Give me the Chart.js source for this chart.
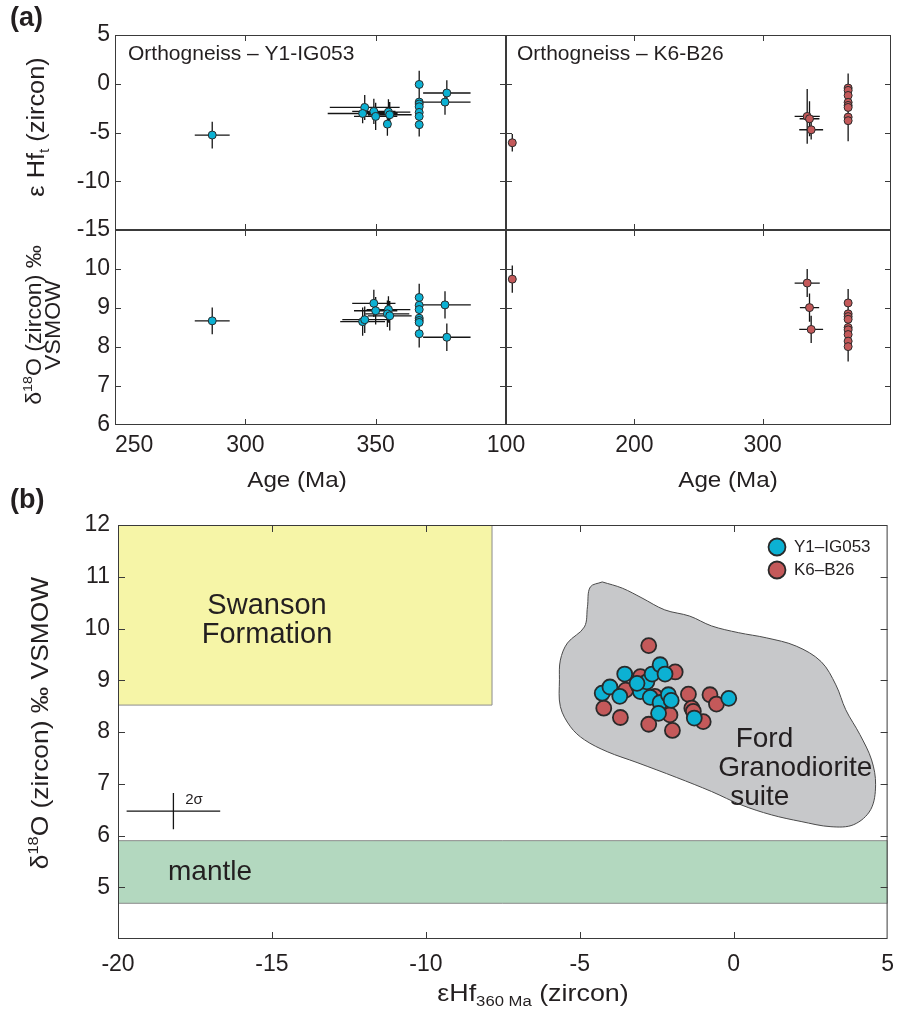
<!DOCTYPE html>
<html><head><meta charset="utf-8">
<script src="https://cdn.jsdelivr.net/npm/chart.js@4.4.1/dist/chart.umd.min.js"></script>
<style>
html,body{margin:0;padding:0;background:#fff;}
#wrap{position:relative;width:906px;height:1012px;overflow:hidden;background:#fff;}
canvas{position:absolute;left:0;top:0;}
</style></head><body><div id="wrap">
<canvas id="cTL"></canvas><canvas id="cTR"></canvas><canvas id="cBL"></canvas><canvas id="cBR"></canvas><canvas id="cB"></canvas>
</div>
<script>
// ---------------- DATA ----------------
// Panel (a) Y1-IG053 : eHf vs age
const hfAgeY1    = [287.3, 345.8, 345.0, 349.3, 350.0, 354.9, 355.4, 354.5, 366.7, 366.7, 366.7, 366.7, 366.7, 366.7, 366.7, 377.3, 376.6];
const hfY1       = [-5.26, -2.43, -3.05, -2.84, -3.35, -2.90, -3.18, -4.14, -0.07, -1.88, -2.08, -2.36, -2.94, -3.35, -4.20, -0.95, -1.88];
const hfAgeErrY1 = [6.7, 13.4, 13.4, 8.3, 8.3, 8.4, 8.4, 0, 0, 0, 0, 0, 0, 0, 0, 9.1, 9.8];
const hfErrY1    = [1.37, 1.28, 1.0, 1.3, 1.4, 1.3, 1.3, 1.2, 1.4, 1.3, 1.3, 1.3, 1.3, 1.3, 1.2, 1.3, 1.3];
// Panel (a) Y1-IG053 : d18O vs age
const oAgeY1     = [287.3, 349.3, 350.0, 345.0, 345.8, 354.9, 354.5, 355.4, 366.7, 366.7, 366.7, 366.7, 366.7, 366.7, 366.7, 376.6, 377.3];
const oY1        = [8.67, 9.12, 8.93, 8.65, 8.70, 8.96, 8.85, 8.80, 9.27, 9.07, 8.96, 8.74, 8.68, 8.63, 8.34, 9.08, 8.25];
const oAgeErrY1  = [6.7, 8.3, 8.3, 8.6, 8.6, 8.4, 8.4, 8.4, 0, 0, 0, 0, 0, 0, 0, 9.9, 9.1];
const oErrY1     = [0.34, 0.35, 0.35, 0.36, 0.34, 0.34, 0.34, 0.38, 0.35, 0.35, 0.35, 0.35, 0.35, 0.35, 0.35, 0.35, 0.35];
// Panel (a) K6-B26 : eHf vs age
const hfAgeK6    = [104.9, 334.7, 336.5, 337.8, 366.6, 366.6, 366.6, 366.6, 366.6, 366.6, 366.6, 366.6];
const hfK6       = [-6.05, -3.35, -3.59, -4.72, -0.44, -0.68, -1.20, -1.91, -2.22, -2.43, -3.42, -3.79];
const hfAgeErrK6 = [0, 9.8, 7.7, 9.3, 0, 0, 0, 0, 0, 0, 0, 0];
const hfErrK6    = [0.9, 2.8, 1.8, 1.0, 1.5, 1.5, 1.5, 1.6, 1.6, 1.6, 1.9, 2.1];
// Panel (a) K6-B26 : d18O vs age
const oAgeK6     = [104.9, 334.7, 336.5, 337.8, 366.6, 366.6, 366.6, 366.6, 366.6, 366.6, 366.6, 366.6, 366.6];
const oK6        = [9.74, 9.64, 9.01, 8.45, 9.13, 8.85, 8.78, 8.71, 8.50, 8.44, 8.32, 8.15, 8.01];
const oAgeErrK6  = [0, 9.8, 7.5, 9.3, 0, 0, 0, 0, 0, 0, 0, 0, 0];
const oErrK6     = [0.35, 0.36, 0.36, 0.35, 0.36, 0.36, 0.36, 0.36, 0.36, 0.36, 0.36, 0.36, 0.38];
// Panel (b) : d18O vs eHf(360 Ma)
const bHfY1 = [-4.27, -4.02, -3.70, -3.54, -3.08, -3.03, -2.82, -2.65, -2.39, -2.23, -2.71, -2.39, -2.12, -2.03, -2.44, -1.28, -0.16, -3.14];
const bOY1  = [8.75, 8.87, 8.69, 9.12, 8.88, 8.78, 8.97, 9.12, 9.30, 9.12, 8.67, 8.57, 8.72, 8.61, 8.36, 8.27, 8.65, 8.94];
const bHfK6 = [-2.76, -4.22, -3.68, -2.76, -1.99, -1.47, -1.36, -1.31, -0.77, -0.56, -0.99, -1.90, -2.07, -3.03, -3.51, -2.56];
const bOK6  = [9.67, 8.46, 8.28, 8.15, 8.03, 8.73, 8.46, 8.40, 8.72, 8.54, 8.20, 9.16, 8.33, 9.07, 8.81, 8.69];
// Reference fields in panel (b)
const fordX = [-4.27, -3.62, -2.98, -2.24, -1.43, -0.72, 0.15, 1.06, 2.03, 2.84, 3.32, 3.64, 4.10, 4.48, 4.61, 4.45, 3.90, 3.16, 2.19, 1.22, 0.25, -0.72, -1.85, -3.14, -4.11, -4.85, -5.30, -5.63, -5.66, -5.63, -5.40, -4.85, -4.75, -4.66];
const fordY = [10.90, 10.78, 10.59, 10.36, 10.24, 10.05, 9.92, 9.82, 9.66, 9.36, 8.91, 8.43, 7.95, 7.46, 6.98, 6.50, 6.21, 6.17, 6.27, 6.40, 6.59, 6.85, 7.12, 7.41, 7.62, 7.85, 8.10, 8.49, 9.01, 9.39, 9.72, 10.03, 10.42, 10.80];
const swansonX = [-20, -7.85];
const swansonY = [8.52, 12];
const mantleX  = [-20, 5];
const mantleY  = [4.69, 5.90];
const sigmaCenter = [-18.2, 6.47];
const sigmaHalf   = [1.52, 0.35];
// Tick values
const ageTicksL = [250, 300, 350, 400];
const ageTicksR = [100, 200, 300, 400];
const hfTicks   = [5, 0, -5, -10, -15];
const oTicks    = [6, 7, 8, 9, 10, 11];
const bXTicks   = [-20, -15, -10, -5, 0, 5];
const bYTicks   = [4, 5, 6, 7, 8, 9, 10, 11, 12];

// ---------------- STYLE ----------------
const W = 906, H = 1012;
const FONT = '"Liberation Sans", Arial, Helvetica, sans-serif';
const INK = '#231f20';
const CYAN = '#0cb1d3', RED = '#c4595a', EDGE = '#2a2a2a';
Chart.defaults.font.family = FONT;
Chart.defaults.color = INK;

function drawRich(ctx, segs, size, weight, align) {
  const parts = segs.map(s => {
    const k = (s.sub || s.sup) ? 0.62 : 1;
    const f = (weight || 'normal') + ' ' + (size * k) + 'px ' + FONT;
    ctx.font = f;
    return { t: s.t, f, w: ctx.measureText(s.t).width, dy: s.sub ? size * 0.32 : (s.sup ? -size * 0.30 : 0) };
  });
  const total = parts.reduce((a, p) => a + p.w, 0);
  let x = align === 'left' ? 0 : (align === 'right' ? -total : -total / 2);
  ctx.textBaseline = 'middle'; ctx.textAlign = 'left'; ctx.fillStyle = INK;
  parts.forEach(p => { ctx.font = p.f; ctx.fillText(p.t, x, p.dy); x += p.w; });
}

const TEXTS = {};
const textPlugin = {
  id: 'texts',
  afterDatasetsDraw(chart) {
    const items = TEXTS[chart.canvas.id] || [];
    const ctx = chart.ctx;
    items.forEach(it => {
      let x = it.x, y = it.y;
      if (it.data) { x = chart.scales.x.getPixelForValue(it.x); y = chart.scales.y.getPixelForValue(it.y); }
      ctx.save();
      ctx.translate(x, y);
      if (it.rot) ctx.rotate(it.rot);
      if (it.sx) ctx.scale(it.sx, 1);
      drawRich(ctx, it.segs || [{ t: it.text }], it.size, it.weight, it.align || 'center');
      ctx.restore();
    });
  }
};

const framePlugin = {
  id: 'frame',
  afterDatasetsDraw(chart, args, o) {
    const { ctx, chartArea: a } = chart;
    const L = o.len || 6;
    const xs = chart.scales.x, ys = chart.scales.y;
    ctx.save();
    ctx.strokeStyle = o.color || '#3a3a3a';
    ctx.lineWidth = o.width || 1;
    ctx.beginPath();
    xs.ticks.forEach(t => {
      if (t.value <= xs.min + 1e-9 || t.value >= xs.max - 1e-9) return;
      const p = Math.round(xs.getPixelForValue(t.value)) + 0.5;
      ctx.moveTo(p, a.bottom); ctx.lineTo(p, a.bottom - L);
      ctx.moveTo(p, a.top); ctx.lineTo(p, a.top + L);
    });
    ys.ticks.forEach(t => {
      if (t.value <= ys.min + 1e-9 || t.value >= ys.max - 1e-9) return;
      const p = Math.round(ys.getPixelForValue(t.value)) + 0.5;
      ctx.moveTo(a.left, p); ctx.lineTo(a.left + L, p);
      ctx.moveTo(a.right, p); ctx.lineTo(a.right - L, p);
    });
    ctx.stroke();
    ctx.strokeRect(a.left + 0.5, a.top + 0.5, a.right - a.left - 1, a.bottom - a.top - 1);
    ctx.restore();
  }
};

const legendMove = {
  id: 'legendMove',
  afterLayout(chart, args, o) {
    const lg = chart.legend;
    if (!lg || o.left === undefined) return;
    const w = lg.width, h = lg.height;
    lg.left = o.left; lg.top = o.top; lg.right = o.left + w; lg.bottom = o.top + h;
  }
};

function axis(pos, min, max, ticks, shown, size, pad, align) {
  return {
    type: 'linear', position: pos, min, max,
    afterBuildTicks: s => { s.ticks = ticks.map(v => ({ value: v })); },
    grid: { display: false, drawTicks: false },
    border: { display: false },
    ticks: {
      display: shown.length > 0, autoSkip: false, maxRotation: 0, minRotation: 0,
      align: align || 'center',
      padding: pad, color: INK, font: { family: FONT, size: size },
      callback: v => shown.includes(v) ? String(v) : ''
    }
  };
}

function pts(label, xs, ys, color, r, bw) {
  return {
    label, data: xs.map((x, i) => ({ x, y: ys[i] })),
    backgroundColor: color, borderColor: EDGE,
    pointBackgroundColor: color, pointBorderColor: EDGE,
    pointRadius: r, pointHoverRadius: r, pointBorderWidth: bw, borderWidth: bw
  };
}
function errs(xs, ys, ex, ey) {
  const d = [];
  xs.forEach((x, i) => {
    if (ey[i] > 0) d.push({ x, y: ys[i] - ey[i] }, { x, y: ys[i] + ey[i] }, { x: null, y: null });
    if (ex[i] > 0) d.push({ x: x - ex[i], y: ys[i] }, { x: x + ex[i], y: ys[i] }, { x: null, y: null });
  });
  return { type: 'line', label: 'err', data: d, borderColor: '#151515', borderWidth: 1.3, pointRadius: 0, fill: false, spanGaps: false, tension: 0 };
}
function closedShape(xs, ys, fillColor, lineColor, tension) {
  const d = xs.map((x, i) => ({ x, y: ys[i] }));
  d.push({ x: xs[0], y: ys[0] });
  return { type: 'line', label: 'shape', data: d, backgroundColor: fillColor, borderColor: lineColor, borderWidth: 1, pointRadius: 0, fill: 'shape', tension };
}
function rect(xr, yr, fillColor, lineColor) {
  return closedShape([xr[0], xr[1], xr[1], xr[0]], [yr[0], yr[0], yr[1], yr[1]], fillColor, lineColor, 0);
}

function makeChart(id, area, x, y, datasets, extra) {
  const c = document.getElementById(id);
  c.width = W; c.height = H;
  extra = extra || {};
  // axis boxes fill the margins so that their labels are not clipped
  x.afterFit = s => { s.height = H - area.b; };
  y.afterFit = s => { s.width = area.l; };
  return new Chart(c, {
    type: 'scatter',
    data: { datasets },
    options: {
      responsive: false, animation: false, devicePixelRatio: 1, events: [],
      layout: { padding: { left: 0, top: area.t, right: W - area.r, bottom: 0 } },
      scales: { x, y },
      plugins: {
        legend: extra.legend || { display: false },
        tooltip: { enabled: false },
        frame: { len: extra.len || 6, color: '#3a3a3a', width: 1 },
        legendMove: extra.legendMove || {}
      }
    },
    plugins: [framePlugin, textPlugin, legendMove]
  });
}

// ---------------- TEXTS ----------------
const ROT = -Math.PI / 2;
TEXTS.cTL = [
  { x: 10, y: 19, text: '(a)', size: 27, weight: 'bold', align: 'left' },
  { x: 128, y: 54, text: 'Orthogneiss \u2013 Y1-IG053', size: 21, align: 'left' },
  { x: 38, y: 127, rot: ROT, size: 23, sx: 1.1, segs: [{ t: '\u03b5 Hf' }, { t: 't', sub: true }, { t: ' (zircon)' }] }
];
TEXTS.cTR = [
  { x: 517, y: 54, text: 'Orthogneiss \u2013 K6-B26', size: 21, align: 'left' }
];
TEXTS.cBL = [
  { x: 35, y: 325, rot: ROT, size: 22, sx: 1.05, segs: [{ t: '\u03b4' }, { t: '18', sup: true }, { t: 'O (zircon) \u2030' }] },
  { x: 54, y: 325, rot: ROT, size: 22, sx: 1.05, text: 'VSMOW' },
  { x: 297, y: 481, size: 22, sx: 1.1, text: 'Age (Ma)' }
];
TEXTS.cBR = [
  { x: 728, y: 481, size: 22, sx: 1.1, text: 'Age (Ma)' }
];
TEXTS.cB = [
  { x: 10, y: 501, text: '(b)', size: 27, weight: 'bold', align: 'left' },
  { x: 41, y: 723, rot: ROT, size: 24, sx: 1.1, segs: [{ t: '\u03b4' }, { t: '18', sup: true }, { t: 'O (zircon) \u2030 VSMOW' }] },
  { x: 533, y: 994, size: 24, sx: 1.12, segs: [{ t: '\u03b5Hf' }, { t: '360 Ma', sub: true }, { t: ' (zircon)' }] },
  { data: true, x: -15.16, y: 10.44, size: 29, text: 'Swanson' },
  { data: true, x: -15.16, y: 9.88, size: 29, text: 'Formation' },
  { data: true, x: -17.01, y: 5.28, size: 28, text: 'mantle' },
  { data: true, x: 1.0, y: 7.85, size: 28, text: 'Ford' },
  { data: true, x: 2.0, y: 7.29, size: 28, text: 'Granodiorite' },
  { data: true, x: 0.85, y: 6.73, size: 28, text: 'suite' },
  { data: true, x: -17.53, y: 6.69, size: 15, text: '2\u03c3' }
];

// ---------------- CHARTS ----------------
const TF = 23;
makeChart('cTL', { l: 115, t: 35, r: 506, b: 230 },
  axis('bottom', 250, 400, ageTicksL, [], TF, 7),
  axis('left', -15, 5, hfTicks, hfTicks, TF, 5),
  [pts('Y1-IG053', hfAgeY1, hfY1, CYAN, 4, 1), errs(hfAgeY1, hfY1, hfAgeErrY1, hfErrY1)]);

makeChart('cTR', { l: 506, t: 35, r: 891, b: 230 },
  axis('bottom', 100, 400, ageTicksR, [], TF, 7),
  axis('left', -15, 5, hfTicks, [], TF, 5),
  [pts('K6-B26', hfAgeK6, hfK6, RED, 4, 1), errs(hfAgeK6, hfK6, hfAgeErrK6, hfErrK6)]);

makeChart('cBL', { l: 115, t: 230, r: 506, b: 425 },
  axis('bottom', 250, 400, ageTicksL, [250, 300, 350], TF, 7, 'inner'),
  axis('left', 6, 11, oTicks, [6, 7, 8, 9, 10], TF, 5),
  [pts('Y1-IG053', oAgeY1, oY1, CYAN, 4, 1), errs(oAgeY1, oY1, oAgeErrY1, oErrY1)]);

makeChart('cBR', { l: 506, t: 230, r: 891, b: 425 },
  axis('bottom', 100, 400, ageTicksR, [100, 200, 300], TF, 7),
  axis('left', 6, 11, oTicks, [], TF, 5),
  [pts('K6-B26', oAgeK6, oK6, RED, 4, 1), errs(oAgeK6, oK6, oAgeErrK6, oErrK6)]);

const sigmaCross = errs([sigmaCenter[0]], [sigmaCenter[1]], [sigmaHalf[0]], [sigmaHalf[1]]);
makeChart('cB', { l: 118, t: 525, r: 892, b: 939 },
  axis('bottom', -20, 5, bXTicks, bXTicks, TF, 12),
  axis('left', 4, 12, bYTicks, [5, 6, 7, 8, 9, 10, 11, 12], TF, 8),
  [
    pts('Y1\u2013IG053', bHfY1, bOY1, CYAN, 7.5, 1.8),
    pts('K6\u2013B26', bHfK6, bOK6, RED, 7.5, 1.8),
    sigmaCross,
    closedShape(fordX, fordY, '#c7c8ca', '#4a4a4a', 0.35),
    rect(swansonX, swansonY, '#f6f5a7', '#8c8c8c'),
    rect(mantleX, mantleY, '#b3d8bf', '#8c8c8c')
  ],
  {
    len: 7,
    legend: {
      display: true, position: 'chartArea', align: 'start',
      labels: {
        usePointStyle: true, pointStyle: 'circle', boxHeight: 12, padding: 6,
        color: INK, font: { family: FONT, size: 17 },
        filter: item => item.datasetIndex < 2
      }
    },
    legendMove: { left: 762.5, top: 532.5 }
  });
</script>
</body></html>
